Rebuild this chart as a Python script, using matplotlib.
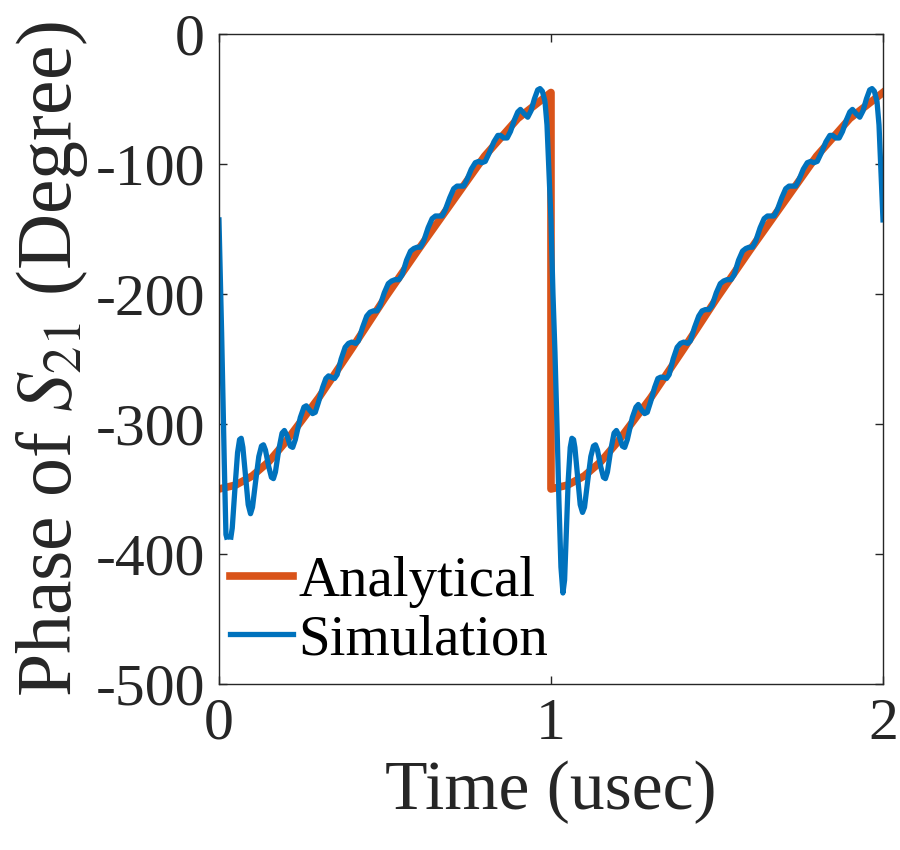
import matplotlib.pyplot as plt
import numpy as np

plt.rcParams['font.family'] = ['Liberation Serif', 'DejaVu Serif']
plt.rcParams['mathtext.fontset'] = 'stix'

# Analytical phase, two periods with a jump at t = 1
t_analytical = [0.0, 0.05, 0.1, 0.15, 0.2, 0.25, 0.3, 0.4, 0.5, 0.6, 0.7, 0.8, 0.9, 1.0,
                1.0, 1.05, 1.1, 1.15, 1.2, 1.25, 1.3, 1.4, 1.5, 1.6, 1.7, 1.8, 1.9, 2.0]
phase_analytical = [-350, -347, -340, -329, -314, -297, -280, -242, -203, -166, -130, -94, -65, -45,
                    -350, -347, -340, -329, -314, -297, -280, -242, -203, -166, -130, -94, -65, -45]

# Simulated phase
t_simulation = [
    0.000, 0.008, 0.016, 0.021, 0.023, np.nan, 0.036, 0.040, 0.048, 0.056, 0.062, 0.067,
    0.072, 0.080, 0.088, 0.095, 0.101, 0.110, 0.120, 0.128, 0.134, 0.140, 0.150, 0.158,
    0.164, 0.170, 0.180, 0.190, 0.197, 0.205, 0.215, 0.222, 0.230, 0.245, 0.256, 0.263,
    0.272, 0.282, 0.290, 0.300, 0.312, 0.322, 0.330, 0.338, 0.348, 0.356, 0.368, 0.380,
    0.390, 0.400, 0.412, 0.420, 0.432, 0.445, 0.455, 0.465, 0.476, 0.485, 0.498, 0.510,
    0.520, 0.530, 0.542, 0.552, 0.565, 0.577, 0.587, 0.597, 0.607, 0.617, 0.630, 0.642,
    0.652, 0.662, 0.672, 0.682, 0.695, 0.707, 0.717, 0.727, 0.737, 0.747, 0.760, 0.772,
    0.782, 0.792, 0.802, 0.815, 0.828, 0.840, 0.848, 0.858, 0.868, 0.878, 0.890, 0.900,
    0.908, 0.918, 0.930, 0.940, 0.950, 0.960, 0.967, 0.974, 0.982, 0.988, 0.993, 1.000,
    1.006, 1.012, 1.018, 1.024, 1.030, 1.036, 1.041, 1.046, 1.052, 1.058, 1.063, 1.068,
    1.072, 1.080, 1.088, 1.095, 1.101, 1.110, 1.120, 1.128, 1.134, 1.140, 1.150, 1.158,
    1.164, 1.170, 1.180, 1.190, 1.197, 1.205, 1.215, 1.222, 1.230, 1.245, 1.256, 1.263,
    1.272, 1.282, 1.290, 1.300, 1.312, 1.322, 1.330, 1.338, 1.348, 1.356, 1.368, 1.380,
    1.390, 1.400, 1.412, 1.420, 1.432, 1.445, 1.455, 1.465, 1.476, 1.485, 1.498, 1.510,
    1.520, 1.530, 1.542, 1.552, 1.565, 1.577, 1.587, 1.597, 1.607, 1.617, 1.630, 1.642,
    1.652, 1.662, 1.672, 1.682, 1.695, 1.707, 1.717, 1.727, 1.737, 1.747, 1.760, 1.772,
    1.782, 1.792, 1.802, 1.815, 1.828, 1.840, 1.848, 1.858, 1.868, 1.878, 1.890, 1.900,
    1.908, 1.918, 1.930, 1.940, 1.950, 1.960, 1.967, 1.974, 1.982, 1.988, 1.993, 2.000]
phase_simulation = [
    -143, -230, -330, -385, -387, np.nan, -387, -380, -350, -322, -312, -311,
    -318, -340, -362, -369, -364, -345, -325, -317, -316, -320, -333, -341,
    -342, -337, -320, -307, -305, -309, -317, -318, -312, -295, -287, -286,
    -289, -292, -291, -283, -272, -265, -263, -264, -265, -262, -250, -241,
    -238, -237, -238, -236, -226, -217, -214, -213, -213, -209, -199, -192,
    -190, -189, -189, -185, -174, -167, -165, -164, -164, -159, -149, -142,
    -140, -140, -140, -135, -126, -119, -117, -117, -117, -112, -104, -99,
    -98, -99, -98, -91, -83, -78, -78, -80, -80, -75, -66, -60,
    -58, -61, -64, -59, -50, -43, -42, -44, -52, -70, -100, -143,
    -200, -245, -300, -360, -410, -430, -420, -385, -343, -318, -311, -312,
    -318, -340, -362, -368, -364, -345, -325, -317, -316, -320, -333, -341,
    -342, -337, -320, -307, -305, -309, -317, -318, -312, -295, -287, -285,
    -289, -292, -291, -283, -272, -265, -264, -264, -265, -262, -250, -241,
    -238, -237, -238, -236, -226, -217, -213, -212, -212, -209, -199, -192,
    -190, -189, -189, -185, -174, -167, -165, -164, -164, -159, -149, -142,
    -140, -140, -140, -135, -126, -119, -117, -117, -117, -112, -104, -99,
    -98, -99, -98, -91, -83, -78, -78, -80, -80, -75, -66, -60,
    -58, -61, -64, -59, -50, -43, -42, -44, -52, -70, -100, -143]

fig = plt.figure(figsize=(9, 8.5), dpi=100)
ax = fig.add_axes([0.2433, 0.1953, 0.7378, 0.7647])

ax.plot(t_analytical, phase_analytical, color='#D95319', linewidth=5.5, label='Analytical')
ax.plot(t_simulation, phase_simulation, color='#0072BD', linewidth=3.8, label='Simulation')

ax.set_xlim(0, 2)
ax.set_ylim(-500, 0)
ax.set_xticks([0, 1, 2])
ax.set_yticks([-500, -400, -300, -200, -100, 0])
ax.set_yticklabels(['-500', '-400', '-300', '-200', '-100', '0'])
ax.tick_params(direction='in', length=6, width=1, top=True, right=True,
               labelsize=43, colors='#262626', pad=10)
for spine in ax.spines.values():
    spine.set_color('#262626')
    spine.set_linewidth(1)

ax.set_xlabel('Time (usec)', fontsize=50, color='#262626', labelpad=6)
ax.set_ylabel('Phase of $S_{21}$ (Degree)', fontsize=56, color='#262626', labelpad=4)

ax.legend(loc='lower left', bbox_to_anchor=(0.0, 0.01), frameon=False, fontsize=41,
          handlelength=1.1, handletextpad=0.1, borderaxespad=0.1, borderpad=0.1,
          labelspacing=0.1)

fig.savefig('out.png', dpi=100)
